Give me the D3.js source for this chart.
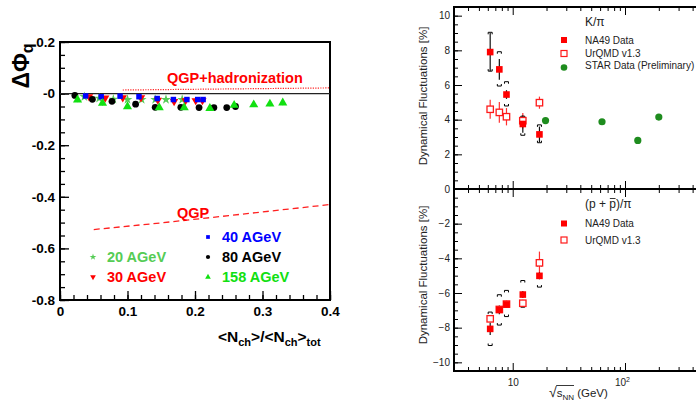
<!DOCTYPE html>
<html>
<head>
<meta charset="utf-8">
<script src="https://cdn.jsdelivr.net/npm/d3@7"></script>
<style>
body { margin: 0; background: #fff; }
svg { display: block; }
</style>
</head>
<body>
<svg id="chart" width="696" height="403"></svg>
<script>
"use strict";

// ---- left panel data: Delta Phi_q vs <Nch>/<Nch>tot ----
var fracTicks = [0, 0.1, 0.2, 0.3, 0.4];
var fracLabels = ["0", "0.1", "0.2", "0.3", "0.4"];
var phiTicks = [0.2, 0, -0.2, -0.4, -0.6, -0.8];
var phiLabels = ["0.2", "-0", "-0.2", "-0.4", "-0.6", "-0.8"];

var x20 = [0.036, 0.058, 0.079, 0.100, 0.121, 0.141, 0.157, 0.181];
var y20 = [-0.012, -0.018, -0.022, -0.023, -0.023, -0.023, -0.023, -0.023];
var x30 = [0.043, 0.067, 0.093, 0.120, 0.145, 0.169, 0.186, 0.201, 0.211];
var y30 = [-0.012, -0.017, -0.016, -0.016, -0.025, -0.030, -0.027, -0.027, -0.027];
var x40 = [0.038, 0.061, 0.089, 0.117, 0.144, 0.168, 0.188, 0.204, 0.212];
var y40 = [-0.009, -0.012, -0.010, -0.012, -0.019, -0.023, -0.023, -0.023, -0.023];
var x80 = [0.022, 0.048, 0.077, 0.112, 0.141, 0.179, 0.206, 0.228, 0.247, 0.260];
var y80 = [-0.007, -0.022, -0.030, -0.041, -0.053, -0.053, -0.054, -0.054, -0.054, -0.050];
var x158 = [0.026, 0.063, 0.100, 0.147, 0.184, 0.222, 0.258, 0.287, 0.311, 0.330];
var y158 = [-0.024, -0.037, -0.050, -0.054, -0.054, -0.057, -0.045, -0.043, -0.040, -0.036];
var errSmall = 0.004;
var errBig = 0.009;

var qgpX = [0.05, 0.15, 0.25, 0.4];
var qgpY = [-0.527, -0.501, -0.473, -0.43];
var hadrX = [0.093, 0.4];
var hadrY = [0.014, 0.022];

// ---- right panel data: dynamical fluctuations vs sqrt(s_NN) ----
var sqrtS = [6.3, 7.6, 8.8, 12.3, 17.3];
var kpiNA49 = [7.9, 6.9, 5.45, 3.75, 3.15];
var kpiStat = [1.1, 0.6, 0.25, 0.5, 0.45];
var kpiSysHi = [9.04, 7.92, 6.19, 4.2, 3.7];
var kpiSysLo = [6.8, 5.94, 4.79, 3.1, 2.67];
var kpiUrqmd = [4.6, 4.42, 4.17, 3.94, 4.98];
var kpiUrqmdErr = [0.55, 0.6, 0.5, 0.45, 0.35];
var starSqrtS = [19.6, 62.4, 130, 200];
var starKpi = [3.95, 3.88, 2.8, 4.15];

var ppiNA49 = [-8.07, -6.97, -6.66, -6.09, -5.01];
var ppiStat = [0.35, 0.25, 0.2, 0.2, 0.2];
var ppiSysHi = [-7.1, -6.1, -5.85, -5.28, -4.35];
var ppiSysLo = [-9.03, -7.85, -7.36, -6.82, -5.66];
var ppiUrqmd = [-7.49, -6.95, -6.64, -6.59, -4.26];
var ppiUrqmdErr = [0.2, 0.2, 0.2, 0.2, 0.65];

var kpiTicks = [0, 2, 4, 6, 8, 10];
var ppiTicks = [-2, -4, -6, -8, -10];
var logMajor = [10, 100];
var logMinor = [4, 5, 6, 7, 8, 9, 20, 30, 40, 50, 60, 70, 80, 90, 200, 300, 400];

var font = "'Liberation Sans', Arial, Helvetica, sans-serif";
var svg = d3.select("#chart");

function style_axis(g, width, colour) {
  g.select(".domain").remove();
  g.selectAll("line").attr("stroke", "#000").attr("stroke-width", width);
  g.attr("font-family", null).attr("font-size", null);
  g.selectAll("text").attr("fill", colour || "#000");
}

// ================= LEFT PANEL =================
var lx = d3.scaleLinear().domain([0, 0.4]).range([60, 330]);
var ly = d3.scaleLinear().domain([-0.8, 0.2]).range([300, 42]);
var left = svg.append("g").style("font-family", font).style("font-weight", "bold");

left.append("g").attr("transform", "translate(0," + ly(-0.8) + ")")
  .call(d3.axisBottom(lx).tickValues(d3.range(0, 0.401, 0.02)).tickSize(-5).tickFormat(""))
  .call(style_axis, 1.3);
left.append("g").attr("transform", "translate(0," + ly(-0.8) + ")")
  .call(d3.axisBottom(lx).tickValues(fracTicks).tickSize(-9).tickPadding(6)
    .tickFormat(function(d, i) { return fracLabels[i]; }))
  .call(style_axis, 1.3)
  .style("font-size", "13.5px");
left.append("g").attr("transform", "translate(" + lx(0) + ",0)")
  .call(d3.axisLeft(ly).tickValues(d3.range(-0.8, 0.201, 0.05)).tickSize(-5).tickFormat(""))
  .call(style_axis, 1.3);
left.append("g").attr("transform", "translate(" + lx(0) + ",0)")
  .call(d3.axisLeft(ly).tickValues(phiTicks).tickSize(-9).tickPadding(5)
    .tickFormat(function(d, i) { return phiLabels[i]; }))
  .call(style_axis, 1.3)
  .style("font-size", "13.5px");

left.append("rect")
  .attr("x", lx(0)).attr("y", ly(0.2))
  .attr("width", lx(0.4) - lx(0)).attr("height", ly(-0.8) - ly(0.2))
  .attr("fill", "none").attr("stroke", "#000").attr("stroke-width", 2);

left.append("line")
  .attr("x1", lx(0)).attr("x2", lx(0.4)).attr("y1", ly(0)).attr("y2", ly(0))
  .attr("stroke", "#222").attr("stroke-width", 1.4);

var line = d3.line().x(function(d) { return lx(d[0]); }).y(function(d) { return ly(d[1]); });
left.append("path")
  .attr("d", line(d3.zip(hadrX, hadrY)))
  .attr("fill", "none").attr("stroke", "#ff2020").attr("stroke-width", 1.2)
  .attr("stroke-dasharray", "1.2,1.3");
left.append("path")
  .attr("d", line(d3.zip(qgpX, qgpY)))
  .attr("fill", "none").attr("stroke", "#ff2020").attr("stroke-width", 1.3)
  .attr("stroke-dasharray", "6,4");

left.append("text").attr("x", 167).attr("y", 83).attr("fill", "#ff0000")
  .style("font-size", "14.5px").text("QGP+hadronization");
left.append("text").attr("x", 177).attr("y", 218).attr("fill", "#ff0000")
  .style("font-size", "14.5px").text("QGP");

var series = [
  {x: x20, y: y20, err: errSmall, color: "#55cc55", type: d3.symbolStar, size: 30, rot: 0, label: "20 AGeV", lx: 93, ly: 257},
  {x: x30, y: y30, err: errSmall, color: "#ff0000", type: d3.symbolTriangle, size: 30, rot: 180, label: "30 AGeV", lx: 93, ly: 277},
  {x: x40, y: y40, err: errSmall, color: "#0000ff", type: d3.symbolSquare, size: 30, rot: 0, label: "40 AGeV", lx: 208, ly: 237},
  {x: x80, y: y80, err: errBig, color: "#000000", type: d3.symbolCircle, size: 36, rot: 0, label: "80 AGeV", lx: 208, ly: 257},
  {x: x158, y: y158, err: errBig, color: "#11e011", type: d3.symbolTriangle, size: 36, rot: 0, label: "158 AGeV", lx: 208, ly: 277}
];

series.forEach(function(s) {
  var pts = d3.zip(s.x, s.y);
  var g = left.append("g");
  g.selectAll("line.err").data(pts).join("line")
    .attr("x1", function(d) { return lx(d[0]); }).attr("x2", function(d) { return lx(d[0]); })
    .attr("y1", function(d) { return ly(d[1] + s.err); }).attr("y2", function(d) { return ly(d[1] - s.err); })
    .attr("stroke", s.color).attr("stroke-width", 1);
  g.selectAll("path").data(pts).join("path")
    .attr("d", d3.symbol().type(s.type).size(s.size))
    .attr("transform", function(d) { return "translate(" + lx(d[0]) + "," + ly(d[1]) + ") rotate(" + s.rot + ")"; })
    .attr("fill", s.color);
  // legend entry
  left.append("path")
    .attr("d", d3.symbol().type(s.type).size(14))
    .attr("transform", "translate(" + s.lx + "," + s.ly + ") rotate(" + s.rot + ")")
    .attr("fill", s.color);
  left.append("text").attr("x", s.lx + 14).attr("y", s.ly + 5).attr("fill", s.color)
    .style("font-size", "14.5px").text(s.label);
});

// axis titles
var yt = left.append("text").attr("transform", "translate(29,66) rotate(-90)")
  .attr("text-anchor", "middle").style("font-size", "23px");
yt.append("tspan").text("\u0394\u03a6");
yt.append("tspan").attr("dy", 4).style("font-size", "16px").text("q");

var xt = left.append("text").attr("x", 218).attr("y", 342).style("font-size", "15.5px");
xt.append("tspan").text("<N");
xt.append("tspan").attr("dy", 4).style("font-size", "11px").text("ch");
xt.append("tspan").attr("dy", -4).text(">/<N");
xt.append("tspan").attr("dy", 4).style("font-size", "11px").text("ch");
xt.append("tspan").attr("dy", -4).text(">");
xt.append("tspan").attr("dy", 4).style("font-size", "11px").text("tot");

// ================= RIGHT PANEL =================
var rx = d3.scaleLog().domain([3, 500]).range([454, 703.5]);
var ryTop = d3.scaleLinear().domain([0, 10.5]).range([189, 7]);
var ryBot = d3.scaleLinear().domain([-10.5, 0]).range([371, 189]);
var right = svg.append("g").style("font-family", font).attr("fill", "#222");

// log x ticks on every horizontal frame line
[[ryTop(10.5), 1], [ryTop(0), -1], [ryBot(0), 1], [ryBot(-10.5), -1]].forEach(function(p) {
  var dir = p[1];
  right.append("g").attr("transform", "translate(0," + p[0] + ")")
    .call(d3.axisBottom(rx).tickValues(logMinor).tickSize(4 * dir).tickFormat(""))
    .call(style_axis, 1);
  right.append("g").attr("transform", "translate(0," + p[0] + ")")
    .call(d3.axisBottom(rx).tickValues(logMajor).tickSize(8 * dir).tickFormat(""))
    .call(style_axis, 1);
});

var bx = right.append("g").attr("transform", "translate(0," + ryBot(-10.5) + ")")
  .call(d3.axisBottom(rx).tickValues(logMajor).tickSize(0).tickPadding(8).tickFormat(function() { return "10"; }))
  .call(style_axis, 1, "#222")
  .style("font-size", "10px");
bx.selectAll("text").filter(function(d) { return d === 100; })
  .attr("dx", -3)
  .append("tspan").attr("dy", -4).style("font-size", "7px").text("2");

function y_axis(scale, major, lo, hi) {
  right.append("g").attr("transform", "translate(" + rx(3) + ",0)")
    .call(d3.axisLeft(scale).tickValues(d3.range(lo, hi + 0.01, 0.5)).tickSize(-4).tickFormat(""))
    .call(style_axis, 1);
  right.append("g").attr("transform", "translate(" + rx(3) + ",0)")
    .call(d3.axisLeft(scale).tickValues(major).tickSize(-8).tickPadding(4))
    .call(style_axis, 1, "#222")
    .style("font-size", "10px");
}
y_axis(ryTop, kpiTicks, 0, 10.5);
y_axis(ryBot, ppiTicks, -10.5, 0);

[ryTop, ryBot].forEach(function(sc) {
  var d = sc.domain();
  right.append("rect")
    .attr("x", rx(3)).attr("y", sc(d[1]))
    .attr("width", rx(500) - rx(3)).attr("height", sc(d[0]) - sc(d[1]))
    .attr("fill", "none").attr("stroke", "#000").attr("stroke-width", 2);
});

function bracket(g, x, y, top) {
  var h = top ? 2 : -2;
  g.append("path")
    .attr("d", "M" + (x - 2) + "," + (y + h) + " L" + (x - 2) + "," + y + " L" + (x + 2) + "," + y + " L" + (x + 2) + "," + (y + h))
    .attr("fill", "none").attr("stroke", "#000").attr("stroke-width", 1);
}

function draw_panel(sc, na49, stat, sysHi, sysLo, urqmd, urqmdErr) {
  var g = right.append("g");
  sqrtS.forEach(function(s, i) {
    var x = rx(s);
    bracket(g, x, sc(sysHi[i]), true);
    bracket(g, x, sc(sysLo[i]), false);
    g.append("line").attr("x1", x).attr("x2", x)
      .attr("y1", sc(urqmd[i] + urqmdErr[i])).attr("y2", sc(urqmd[i] - urqmdErr[i]))
      .attr("stroke", "#ff3030").attr("stroke-width", 1.2);
    g.append("line").attr("x1", x).attr("x2", x)
      .attr("y1", sc(na49[i] + stat[i])).attr("y2", sc(na49[i] - stat[i]))
      .attr("stroke", "#111").attr("stroke-width", 1.2);
  });
  g.selectAll("rect.ur").data(d3.zip(sqrtS, urqmd)).join("rect")
    .attr("x", function(d) { return rx(d[0]) - 3.2; }).attr("y", function(d) { return sc(d[1]) - 3.2; })
    .attr("width", 6.4).attr("height", 6.4)
    .attr("fill", "#fff").attr("stroke", "#ff1a1a").attr("stroke-width", 1.3);
  g.selectAll("rect.na").data(d3.zip(sqrtS, na49)).join("rect")
    .attr("x", function(d) { return rx(d[0]) - 3.3; }).attr("y", function(d) { return sc(d[1]) - 3.3; })
    .attr("width", 6.6).attr("height", 6.6).attr("fill", "#ff0000");
}
draw_panel(ryTop, kpiNA49, kpiStat, kpiSysHi, kpiSysLo, kpiUrqmd, kpiUrqmdErr);
draw_panel(ryBot, ppiNA49, ppiStat, ppiSysHi, ppiSysLo, ppiUrqmd, ppiUrqmdErr);

right.append("g").selectAll("circle").data(d3.zip(starSqrtS, starKpi)).join("circle")
  .attr("cx", function(d) { return rx(d[0]); }).attr("cy", function(d) { return ryTop(d[1]); })
  .attr("r", 3.6).attr("fill", "#1e8c1e");

// legends
function legend_square(y, filled) {
  right.append("rect").attr("x", 561).attr("y", y - 3).attr("width", 6).attr("height", 6)
    .attr("fill", filled ? "#ff0000" : "#fff").attr("stroke", filled ? "none" : "#ff1a1a").attr("stroke-width", 1.2);
}
function legend_text(y, txt) {
  right.append("text").attr("x", 585).attr("y", y + 3.5).style("font-size", "10px").text(txt);
}
right.append("text").attr("x", 585).attr("y", 26).style("font-size", "12px").text("K/\u03c0");
legend_square(40, true);
legend_text(40, "NA49 Data");
legend_square(53.5, false);
legend_text(53.5, "UrQMD v1.3");
right.append("circle").attr("cx", 564).attr("cy", 67.5).attr("r", 3.3).attr("fill", "#1e8c1e");
legend_text(65.5, "STAR Data (Preliminary)");

var pt = right.append("text").attr("x", 585).attr("y", 207.5).style("font-size", "12px").text("(p + p)/\u03c0");
legend_square(223.5, true);
legend_text(223.5, "NA49 Data");
legend_square(240, false);
legend_text(240, "UrQMD v1.3");
var pbar = pt.node().getExtentOfChar(5);
right.append("line").attr("x1", pbar.x + 0.5).attr("x2", pbar.x + pbar.width - 0.5)
  .attr("y1", pbar.y + 2).attr("y2", pbar.y + 2).attr("stroke", "#222").attr("stroke-width", 0.9);

// y titles
[ryTop, ryBot].forEach(function(sc, i) {
  right.append("text")
    .attr("transform", "translate(427," + (i == 0 ? 96 : 275) + ") rotate(-90)")
    .attr("text-anchor", "middle").style("font-size", "11.5px")
    .text("Dynamical Fluctuations [%]");
});

// x title with sqrt sign
var xr = right.append("text").attr("x", 549).attr("y", 397).style("font-size", "11.5px");
xr.append("tspan").style("font-size", "14px").text("\u221a");
xr.append("tspan").text("s");
xr.append("tspan").attr("dy", 3).style("font-size", "8px").text("NN");
xr.append("tspan").attr("dy", -3).text(" (GeV)");
var root = xr.node().getExtentOfChar(0);
var nn = xr.node().getExtentOfChar(3);
right.append("line").attr("x1", root.x + root.width - 0.5).attr("x2", nn.x + nn.width)
  .attr("y1", root.y + 1.5).attr("y2", root.y + 1.5).attr("stroke", "#222").attr("stroke-width", 0.9);
</script>
</body>
</html>
